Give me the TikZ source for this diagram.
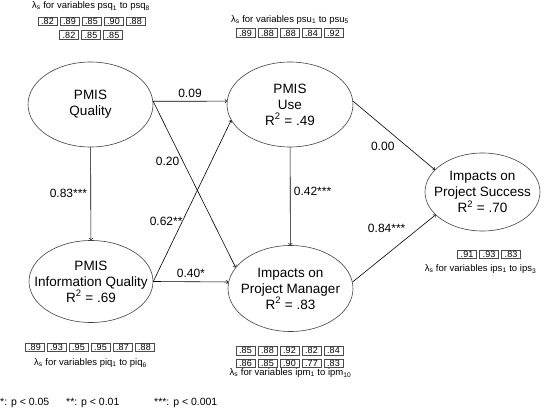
\documentclass[tikz,border=0pt]{standalone}
\usepackage{fontspec}
\setmainfont{Liberation Sans}
\usetikzlibrary{shapes.geometric}
\tikzset{
  latent/.style={draw=black!75, line width=0.6pt, ellipse, inner sep=0pt},
  lvtext/.style={align=center, font=\fontsize{13.5}{16}\selectfont},
  coef/.style={font=\fontsize{12}{14}\selectfont},
  effect/.style={->, line width=0.6pt},
  lbox/.style={draw=black!70, line width=0.5pt, minimum width=19pt, minimum height=8.5pt, inner sep=0pt, font=\fontsize{9}{9}\selectfont},
  ltitle/.style={font=\fontsize{9.5}{11}\selectfont},
  legtext/.style={anchor=west, inner sep=0pt, font=\fontsize{10.5}{12}\selectfont}
}
\begin{document}
\begin{tikzpicture}[x=1pt,y=-1pt]
\useasboundingbox (0,0) rectangle (552,412);
% latent variables
\node[latent, minimum width=125pt, minimum height=85pt] (q) at (90.5,104.5) {};
\node[lvtext] (qt) at (q) {PMIS\\Quality};
\node[latent, minimum width=126pt, minimum height=85pt] (use) at (290,104.5) {};
\node[lvtext] (uset) at (use) {PMIS\\Use\\R\textsuperscript{2} = .49};
\node[latent, minimum width=124pt, minimum height=82pt] (iq) at (91,281.5) {};
\node[lvtext] (iqt) at (iq) {PMIS\\Information Quality\\R\textsuperscript{2} = .69};
\node[latent, minimum width=125pt, minimum height=86pt] (ipm) at (290.5,288.5) {};
\node[lvtext] (ipmt) at (ipm) {Impacts on\\Project Manager\\R\textsuperscript{2} = .83};
\node[latent, minimum width=115pt, minimum height=78pt] (ips) at (482.5,192) {};
\node[lvtext] (ipst) at (ips) {Impacts on\\Project Success\\R\textsuperscript{2} = .70};
% paths
\draw[effect] (q) -- node[coef, left] (w83) {0.83***} (iq);
\draw[effect] (q.3) -- node[coef, above] (w09) {0.09} (use.177);
\draw[effect] (q.3) -- node[coef, pos=0.36, left] (w20) {0.20} (ipm.159);
\draw[effect] (iq.east) -- node[coef, pos=0.37, anchor=east, xshift=4pt] (w62) {0.62**} (use.195);
\draw[effect] (iq.east) -- node[coef, above] (w40) {0.40*} (ipm.174);
\draw[effect] (use) -- node[coef, pos=0.45, right] (w42) {0.42***} (ipm);
\draw[effect] (use.3) -- node[coef, pos=0.55, below left] (w00) {0.00} (ips.155);
\draw[effect] (ipm.6) -- node[coef, pos=0.68, above left] (w84) {0.84***} (ips.206);
% loadings
\node[ltitle] (psqlab) at (91,6.5) {λ\textsubscript{s} for variables psq\textsubscript{1} to psq\textsubscript{8}};
\foreach \v [count=\i] in {.82,.89,.85,.90,.88}
  \node[lbox] (psqa\i) at ({91.5+(\i-3)*22},21.5) {\v};
\foreach \v [count=\i] in {.82,.85,.85}
  \node[lbox] (psqb\i) at ({91+(\i-2)*22},35) {\v};
\node[ltitle] (psulab) at (290,20) {λ\textsubscript{s} for variables psu\textsubscript{1} to psu\textsubscript{5}};
\foreach \v [count=\i] in {.89,.88,.88,.84,.92}
  \node[lbox] (psu\i) at ({289.5+(\i-3)*22},33) {\v};
\foreach \v [count=\i] in {.89,.93,.95,.95,.87,.88}
  \node[lbox] (piq\i) at ({89.5+(\i-3.5)*22},347) {\v};
\node[ltitle] (piqlab) at (90.5,363) {λ\textsubscript{s} for variables piq\textsubscript{1} to piq\textsubscript{6}};
\foreach \v [count=\i] in {.85,.88,.92,.82,.84}
  \node[lbox] (ipma\i) at ({289.5+(\i-3)*22},350.5) {\v};
\foreach \v [count=\i] in {.86,.85,.90,.77,.83}
  \node[lbox] (ipmb\i) at ({289.5+(\i-3)*22},363) {\v};
\node[ltitle] (ipmlab) at (290.5,373) {λ\textsubscript{s} for variables ipm\textsubscript{1} to ipm\textsubscript{10}};
\foreach \v [count=\i] in {.91,.93,.83}
  \node[lbox] (ips\i) at ({489+(\i-2)*22},254) {\v};
\node[ltitle] (ipslab) at (480.5,269) {λ\textsubscript{s} for variables ips\textsubscript{1} to ips\textsubscript{3}};
% legend
\node[legtext] (leg1) at (0,403) {*: p < 0.05};
\node[legtext] (leg2) at (66,403) {**: p < 0.01};
\node[legtext] (leg3) at (154,403) {***: p < 0.001};
\end{tikzpicture}
\end{document}
